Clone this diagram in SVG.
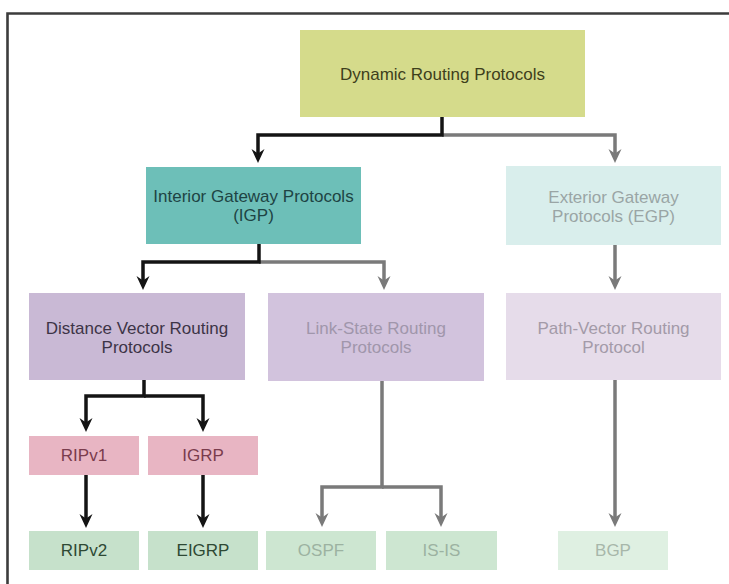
<svg xmlns="http://www.w3.org/2000/svg" width="729" height="584" viewBox="0 0 729 584">
  <style>
    .box { stroke: none; }
    text { font-family: "Liberation Sans", Arial, sans-serif; font-size: 17px; text-anchor: middle; }
    .wire { fill: none; stroke-width: 3.5; stroke-linejoin: miter; }
    .dark { stroke: #141414; }
    .grey { stroke: #7a7a7a; }
  </style>
  <defs>
    <marker id="arrowDark" markerUnits="userSpaceOnUse" orient="auto" refX="9" refY="0" markerWidth="16" markerHeight="16" overflow="visible">
      <path d="M14,0 L0,-6.5 L4.5,0 L0,6.5 Z" fill="#141414"/>
    </marker>
    <marker id="arrowGrey" markerUnits="userSpaceOnUse" orient="auto" refX="9" refY="0" markerWidth="16" markerHeight="16" overflow="visible">
      <path d="M14,0 L0,-6.5 L4.5,0 L0,6.5 Z" fill="#7a7a7a"/>
    </marker>
  </defs>

  <rect width="729" height="584" fill="#ffffff"/>
  <!-- outer frame (open to the right and bottom) -->
  <path d="M729,13.5 H7.5 V584" fill="none" stroke="#3c3c3c" stroke-width="2.6"/>

  <!-- connectors -->
  <g id="connectors">
    <path class="wire grey" d="M442,135 H615 V158" marker-end="url(#arrowGrey)"/>
    <path class="wire dark" d="M442,117 V135 H258 V158" marker-end="url(#arrowDark)"/>

    <path class="wire grey" d="M259,262 H384 V285" marker-end="url(#arrowGrey)"/>
    <path class="wire dark" d="M259,244 V262 H143 V285" marker-end="url(#arrowDark)"/>

    <path class="wire grey" d="M615,245 V285" marker-end="url(#arrowGrey)"/>

    <path class="wire dark" d="M144,380 V396 H86 V427" marker-end="url(#arrowDark)"/>
    <path class="wire dark" d="M144,396 H203 V427" marker-end="url(#arrowDark)"/>

    <path class="wire dark" d="M86,475 V523" marker-end="url(#arrowDark)"/>
    <path class="wire dark" d="M203,475 V523" marker-end="url(#arrowDark)"/>

    <path class="wire grey" d="M382,381 V487 H322 V522" marker-end="url(#arrowGrey)"/>
    <path class="wire grey" d="M382,487 H441 V522" marker-end="url(#arrowGrey)"/>

    <path class="wire grey" d="M615,380 V522" marker-end="url(#arrowGrey)"/>
  </g>

  <!-- nodes -->
  <g id="dynamic">
    <rect class="box" x="300" y="30" width="285" height="87" fill="#d5db8b"/>
    <text x="442.5" y="80" fill="#3e3f1c">Dynamic Routing Protocols</text>
  </g>

  <g id="igp">
    <rect class="box" x="146" y="167" width="215" height="77" fill="#6dbfb8"/>
    <text x="253.5" y="202" fill="#1e4444">Interior Gateway Protocols</text>
    <text x="253.5" y="221" fill="#1e4444">(IGP)</text>
  </g>

  <g id="egp">
    <rect class="box" x="506" y="166" width="215" height="79" fill="#d9eeec"/>
    <text x="613.5" y="203" fill="#9aa5a5">Exterior Gateway</text>
    <text x="613.5" y="222" fill="#9aa5a5">Protocols (EGP)</text>
  </g>

  <g id="distance-vector">
    <rect class="box" x="29" y="293" width="216" height="87" fill="#c9b9d5"/>
    <text x="137" y="334" fill="#3d3447">Distance Vector Routing</text>
    <text x="137" y="353" fill="#3d3447">Protocols</text>
  </g>

  <g id="link-state">
    <rect class="box" x="268" y="293" width="216" height="88" fill="#d2c3dd"/>
    <text x="376" y="334" fill="#a096ab">Link-State Routing</text>
    <text x="376" y="353" fill="#a096ab">Protocols</text>
  </g>

  <g id="path-vector">
    <rect class="box" x="506" y="293" width="215" height="87" fill="#e6dcea"/>
    <text x="613.5" y="334" fill="#a39aa8">Path-Vector Routing</text>
    <text x="613.5" y="353" fill="#a39aa8">Protocol</text>
  </g>

  <g id="ripv1">
    <rect class="box" x="29" y="436" width="110" height="39" fill="#e8b5c3"/>
    <text x="84" y="461" fill="#7a3c4d">RIPv1</text>
  </g>

  <g id="igrp">
    <rect class="box" x="148" y="436" width="110" height="39" fill="#e8b5c3"/>
    <text x="203" y="461" fill="#7a3c4d">IGRP</text>
  </g>

  <g id="ripv2">
    <rect class="box" x="29" y="531" width="110" height="39" fill="#c6e1cb"/>
    <text x="84" y="556" fill="#2e4934">RIPv2</text>
  </g>

  <g id="eigrp">
    <rect class="box" x="148" y="531" width="110" height="39" fill="#c6e1cb"/>
    <text x="203" y="556" fill="#2e4934">EIGRP</text>
  </g>

  <g id="ospf">
    <rect class="box" x="266" y="531" width="110" height="39" fill="#cde6d1"/>
    <text x="321" y="556" fill="#9cb2a1">OSPF</text>
  </g>

  <g id="is-is">
    <rect class="box" x="386" y="531" width="111" height="39" fill="#cde6d1"/>
    <text x="441.5" y="556" fill="#9cb2a1">IS-IS</text>
  </g>

  <g id="bgp">
    <rect class="box" x="558" y="531" width="110" height="39" fill="#dff0e2"/>
    <text x="613" y="556" fill="#a7b7aa">BGP</text>
  </g>
</svg>
